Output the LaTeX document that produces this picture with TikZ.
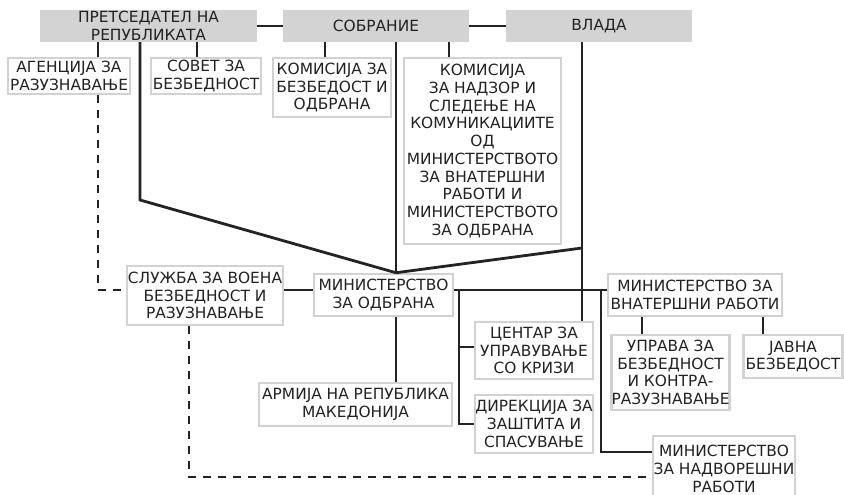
\documentclass[tikz,border=0pt]{standalone}
\usepackage{fontspec}
\setmainfont{DejaVu Sans}
\definecolor{boxgray}{HTML}{D2D2D2}
\definecolor{topgray}{HTML}{D3D3D3}
\definecolor{txt}{HTML}{222222}
\definecolor{lin}{HTML}{232323}
\begin{document}
\begin{tikzpicture}[x=1pt,y=-1pt,
  lbl/.style={inner sep=0pt, align=center, text=txt, font=\fontsize{15.4}{17.7}\selectfont},
  bx/.style={lbl, draw=boxgray, line width=2.5pt, fill=white},
  gb/.style={lbl, fill=topgray},
  ln/.style={draw=lin, line width=2.8pt},
  dl/.style={ln, dash pattern=on 8pt off 7pt}]
\useasboundingbox (0,0) rectangle (844,495);
\clip (0,0) rectangle (844,495);
% positions of vertical connectors
\coordinate (xa) at (98,0);
\coordinate (xb) at (140,0);
\coordinate (xc) at (197,0);
\coordinate (xd) at (325,0);
\coordinate (xe) at (396,0);
\coordinate (xf) at (449,0);
\coordinate (xg) at (582,0);
\coordinate (xh) at (189,0);
\coordinate (xi) at (459,0);
\coordinate (xj) at (601,0);
\coordinate (xk) at (642,0);
\coordinate (xl) at (763,0);
\coordinate (yrow) at (0,290);
\coordinate (yc) at (0,347);
\coordinate (ym) at (0,452);
\coordinate (yd) at (0,477);
\coordinate (kb) at (140,200);
\coordinate (kg) at (582,248);
% top row
\node[gb, minimum width=217pt, minimum height=32pt] (pres) at (148.5,26) {ПРЕТСЕДАТЕЛ НА\\РЕПУБЛИКАТА};
\node[gb, minimum width=186pt, minimum height=32pt] (sobr) at (376,26) {СОБРАНИЕ};
\node[gb, minimum width=186pt, minimum height=32pt] (vlada) at (599,26) {ВЛАДА};
% second row
\node[bx, minimum width=122pt, minimum height=36pt] (agen) at (69,76) {АГЕНЦИЈА ЗА\\РАЗУЗНАВАЊЕ};
\node[bx, minimum width=110pt, minimum height=36pt] (sovet) at (206,76) {СОВЕТ ЗА\\БЕЗБЕДНОСТ};
\node[bx, minimum width=118pt, minimum height=59pt] (komb) at (332,87.5) {КОМИСИЈА ЗА\\БЕЗБЕДОСТ И\\ОДБРАНА};
\node[bx, minimum width=157pt, minimum height=186pt] (komn) at (482.5,151) {КОМИСИЈА\\ЗА НАДЗОР И\\СЛЕДЕЊЕ НА\\КОМУНИКАЦИИТЕ\\ОД\\МИНИСТЕРСТВОТО\\ЗА ВНАТЕРШНИ\\РАБОТИ И\\МИНИСТЕРСТВОТО\\ЗА ОДБРАНА};
% middle
\node[bx, minimum width=156pt, minimum height=59pt] (sluzba) at (205,295.5) {СЛУЖБА ЗА ВОЕНА\\БЕЗБЕДНОСТ И\\РАЗУЗНАВАЊЕ};
\node[bx, minimum width=139pt, minimum height=42pt] (mod) at (383.5,295) {МИНИСТЕРСТВО\\ЗА ОДБРАНА};
\node[bx, minimum width=174pt, minimum height=42pt] (mvr) at (695,295) {МИНИСТЕРСТВО ЗА\\ВНАТЕРШНИ РАБОТИ};
\node[bx, minimum width=118pt, minimum height=57pt] (centar) at (534,350.5) {ЦЕНТАР ЗА\\УПРАВУВАЊЕ\\СО КРИЗИ};
\node[bx, minimum width=117pt, minimum height=75pt] (uprava) at (670.5,372.5) {УПРАВА ЗА\\БЕЗБЕДНОСТ\\И КОНТРА-\\РАЗУЗНАВАЊЕ};
\node[bx, minimum width=99pt, minimum height=43pt] (javna) at (793,356.5) {ЈАВНА\\БЕЗБЕДОСТ};
\node[bx, minimum width=193pt, minimum height=43pt] (armija) at (355.5,404.5) {АРМИЈА НА РЕПУБЛИКА\\МАКЕДОНИЈА};
\node[bx, minimum width=118pt, minimum height=58pt] (direk) at (534,424) {ДИРЕКЦИЈА ЗА\\ЗАШТИТА И\\СПАСУВАЊЕ};
\node[bx, minimum width=142pt, minimum height=66pt] (mnr) at (724,469) {МИНИСТЕРСТВО\\ЗА НАДВОРЕШНИ\\РАБОТИ};
% connectors
\draw[ln] (pres.east) -- (sobr.west);
\draw[ln] (sobr.east) -- (vlada.west);
\draw[ln] (pres.south -| xa) -- (agen.north -| xa);
\draw[ln] (pres.south -| xc) -- (sovet.north -| xc);
\draw[ln] (pres.south -| xb) -- (kb) -- (mod.north -| xe);
\draw[ln] (sobr.south -| xd) -- (komb.north -| xd);
\draw[ln] (sobr.south -| xe) -- (mod.north -| xe);
\draw[ln] (sobr.south -| xf) -- (komn.north -| xf);
\draw[ln] (vlada.south -| xg) -- (centar.north -| xg);
\draw[ln] (kg) -- (mod.north -| xe);
\draw[dl] (agen.south -| xa) -- (xa |- yrow) -- (sluzba.west |- yrow);
\draw[ln] (sluzba.east |- yrow) -- (mod.west |- yrow);
\draw[ln] (mod.east |- yrow) -- (mvr.west |- yrow);
\draw[ln] (mod.south -| xe) -- (armija.north -| xe);
\draw[ln] (xi |- yrow) |- (direk.west);
\draw[ln] (xi |- yc) -- (centar.west |- yc);
\draw[ln] (xj |- yrow) -- (xj |- ym) -- (mnr.west |- ym);
\draw[dl] (sluzba.south -| xh) -- (xh |- yd) -- (mnr.west |- yd);
\draw[ln] (mvr.south -| xk) -- (uprava.north -| xk);
\draw[ln] (mvr.south -| xl) -- (javna.north -| xl);
\end{tikzpicture}
\end{document}
